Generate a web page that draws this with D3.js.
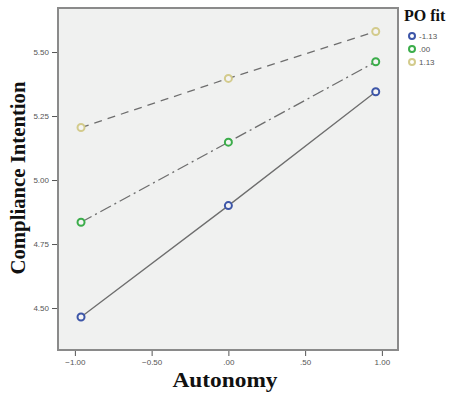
<!DOCTYPE html>
<html>
<head>
<meta charset="utf-8">
<script src="https://cdn.jsdelivr.net/npm/d3@7"></script>
<style>
  body { margin: 0; background: #fff; }
</style>
</head>
<body>
<svg id="drawing_region"></svg>
<script>
// data
const autonomy = [-0.96, 0.0, 0.96];
const groups = ["-1.13", ".00", "1.13"];
const lowFit = [4.465, 4.90, 5.345];
const midFit = [4.835, 5.148, 5.462];
const highFit = [5.205, 5.397, 5.58];
const xTicks = [-1.0, -0.5, 0.0, 0.5, 1.0];
const yTicks = [4.5, 4.75, 5.0, 5.25, 5.5];

const series = [
    { name: groups[0], values: lowFit, color: "#3d56a8", dash: null },
    { name: groups[1], values: midFit, color: "#3bad4a", dash: "12,4,2,4" },
    { name: groups[2], values: highFit, color: "#d3cb8c", dash: "8,6" }
];

const width = 460, height = 393;
const margin = { top: 8, right: 62, bottom: 43, left: 58 };
const inner_width = width - margin.left - margin.right;
const inner_height = height - margin.top - margin.bottom;

const svg = d3.select("#drawing_region")
    .attr("width", width)
    .attr("height", height);

const chart = svg.append("g")
    .attr("transform", `translate(${margin.left}, ${margin.top})`);

const xscale = d3.scaleLinear()
    .domain([-1.11, 1.105])
    .range([0, inner_width]);

const yscale = d3.scaleLinear()
    .domain([4.336, 5.672])
    .range([inner_height, 0]);

chart.append("rect")
    .attr("width", inner_width)
    .attr("height", inner_height)
    .attr("fill", "#f0f1f0")
    .attr("stroke", "#8a8a8a")
    .attr("stroke-width", 2);

const fmt = d => {
    let s = d3.format(".2f")(d);
    return s.replace(/^(-?)0\./, "$1.");
};

const xaxis = d3.axisBottom(xscale)
    .tickValues(xTicks)
    .tickSize(5)
    .tickSizeOuter(0)
    .tickFormat(fmt);

const yaxis = d3.axisLeft(yscale)
    .tickValues(yTicks)
    .tickSize(5)
    .tickSizeOuter(0)
    .tickFormat(fmt);

const xg = chart.append("g")
    .attr("transform", `translate(0, ${inner_height + 1})`)
    .call(xaxis);
const yg = chart.append("g")
    .attr("transform", "translate(-1, 0)")
    .call(yaxis);

[xg, yg].forEach(g => {
    g.select(".domain").remove();
    g.selectAll(".tick line").attr("stroke", "#555");
    g.selectAll(".tick text")
        .attr("fill", "#555")
        .attr("font-family", "Arial, 'Liberation Sans', sans-serif")
        .attr("font-size", "8px");
});

const line = d3.line()
    .x((d, i) => xscale(autonomy[i]))
    .y(d => yscale(d));

series.forEach(s => {
    chart.append("path")
        .datum(s.values)
        .attr("fill", "none")
        .attr("stroke", "#6e6e6e")
        .attr("stroke-width", 1.3)
        .attr("stroke-dasharray", s.dash)
        .attr("d", line);
});

series.forEach(s => {
    chart.selectAll(null)
        .data(s.values)
        .join("circle")
        .attr("cx", (d, i) => xscale(autonomy[i]))
        .attr("cy", d => yscale(d))
        .attr("r", 3.5)
        .attr("fill", "#f4f4f4")
        .attr("stroke", s.color)
        .attr("stroke-width", 2);
});

// axis titles
svg.append("text")
    .attr("transform", `translate(225, 387)`)
    .attr("text-anchor", "middle")
    .attr("font-family", "'Liberation Serif', 'Times New Roman', serif")
    .attr("font-weight", "bold")
    .attr("font-size", "21px")
    .attr("textLength", 105)
    .attr("lengthAdjust", "spacingAndGlyphs")
    .attr("fill", "#111")
    .text("Autonomy");

svg.append("text")
    .attr("transform", `translate(25, 178) rotate(-90)`)
    .attr("text-anchor", "middle")
    .attr("font-family", "'Liberation Serif', 'Times New Roman', serif")
    .attr("font-weight", "bold")
    .attr("font-size", "20px")
    .attr("textLength", 193)
    .attr("lengthAdjust", "spacingAndGlyphs")
    .attr("fill", "#111")
    .text("Compliance Intention");

// legend
const legend = svg.append("g")
    .attr("transform", "translate(404, 0)");

legend.append("text")
    .attr("x", 0)
    .attr("y", 21)
    .attr("font-family", "'Liberation Serif', 'Times New Roman', serif")
    .attr("font-weight", "bold")
    .attr("font-size", "16px")
    .attr("fill", "#111")
    .text("PO fit");

series.forEach((s, i) => {
    const item = legend.append("g")
        .attr("transform", `translate(0, ${36 + i * 13})`);
    item.append("circle")
        .attr("cx", 8)
        .attr("cy", 0)
        .attr("r", 3)
        .attr("fill", "#fff")
        .attr("stroke", s.color)
        .attr("stroke-width", 2);
    item.append("text")
        .attr("x", 15)
        .attr("y", 3)
        .attr("font-family", "Arial, 'Liberation Sans', sans-serif")
        .attr("font-size", "8px")
        .attr("fill", "#555")
        .text(s.name);
});
</script>
</body>
</html>
